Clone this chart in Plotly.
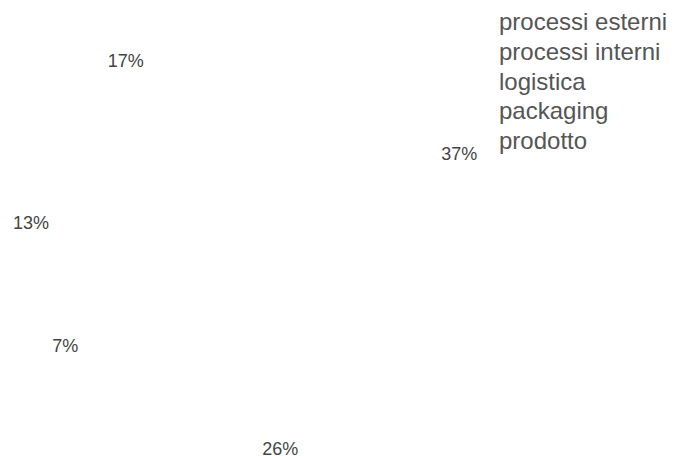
import plotly.graph_objects as go


# ==========================
# DATA
# ==========================

categories = [
    "processi esterni",
    "processi interni",
    "logistica",
    "packaging",
    "prodotto"
]

values = [37, 26, 7, 13, 17]


# ==========================
# PIE
# ==========================

fig = go.Figure()

fig.add_trace(
    go.Pie(
        labels=categories,
        values=values,
        sort=False,
        direction="clockwise",
        rotation=-1,
        textposition="outside",
        texttemplate="%{percent:.0%}",
        textfont=dict(size=18, color="#444444"),
        marker=dict(
            colors=["rgba(255,255,255,0)"] * len(values),
            line=dict(width=0)
        ),
        showlegend=False,
        domain=dict(x=[0.047, 0.645], y=[0.054, 0.935])
    )
)


# legend drawn as plain text rows (no swatches in the original)

row_top = 14
row_step = 29.5

for i, name in enumerate(categories):

    fig.add_annotation(
        text=name,
        xref="paper",
        yref="paper",
        x=485 / 684,
        y=1 - (row_top + i * row_step) / 456,
        xanchor="left",
        yanchor="middle",
        showarrow=False,
        font=dict(size=24, color="#555555")
    )


fig.update_layout(
    width=684,
    height=456,
    margin=dict(l=0, r=0, t=0, b=0),
    paper_bgcolor="white",
    plot_bgcolor="white",
    font=dict(family="Liberation Sans, Arial, sans-serif", color="#555555")
)

fig.write_html("out.html")
